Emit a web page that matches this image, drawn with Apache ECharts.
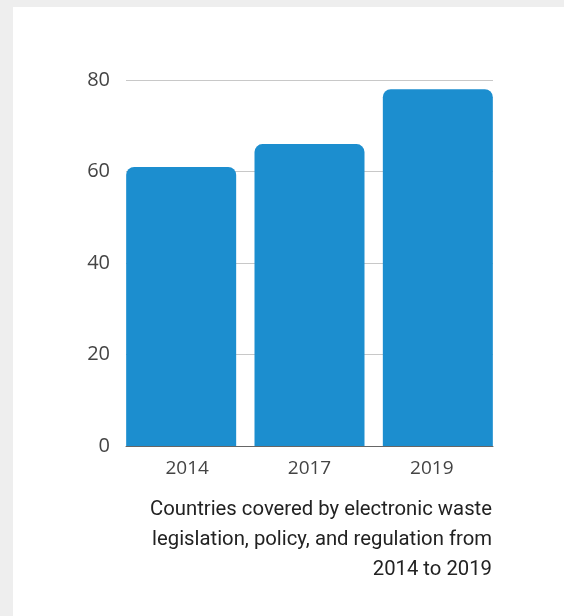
<!DOCTYPE html>
<html>
<head>
<meta charset="utf-8">
<script src="https://cdn.jsdelivr.net/npm/echarts@6/dist/echarts.min.js"></script>
<style>
  html, body { margin: 0; padding: 0; background: #eeeeee; }
  #card { position: absolute; left: 13px; top: 7px; right: 0; bottom: 0; background: #fff; }
  #chart { position: absolute; left: 0; top: 0; width: 564px; height: 616px; }
</style>
</head>
<body>
<div id="card"></div>
<div id="chart"></div>
<script>
var years = ['2014', '2017', '2019'];
var countries = [61, 66, 78];
var yTicks = [0, 20, 40, 60, 80];
var caption = 'Countries covered by electronic waste\nlegislation, policy, and regulation from\n2014 to 2019';

var chart = echarts.init(document.getElementById('chart'));

var option = {
    animation: false,
    grid: [
        // axes, labels and grid lines
        { left: 126, right: 71, top: 80, bottom: 170 },
        // bars, slightly wider so they sit flush with the line ends
        { left: 117, right: 62, top: 80, bottom: 170 }
    ],
    xAxis: [{
        type: 'category',
        gridIndex: 0,
        data: years,
        axisLine: { lineStyle: { color: '#666', width: 1 } },
        axisTick: { show: false },
        axisLabel: { color: '#444', fontSize: 19, fontFamily: 'Open Sans', margin: 13 }
    }, {
        type: 'category',
        gridIndex: 1,
        data: years,
        show: false
    }],
    yAxis: [{
        type: 'value',
        gridIndex: 0,
        min: yTicks[0],
        max: yTicks[yTicks.length - 1],
        interval: 20,
        axisLine: { show: false },
        axisTick: { show: false },
        splitLine: { lineStyle: { color: '#c8c8c8', width: 1 } },
        axisLabel: { color: '#444', fontSize: 20, fontFamily: 'Open Sans', margin: 16 }
    }, {
        type: 'value',
        gridIndex: 1,
        min: yTicks[0],
        max: yTicks[yTicks.length - 1],
        show: false
    }],
    series: [{
        type: 'bar',
        xAxisIndex: 1,
        yAxisIndex: 1,
        data: countries,
        barWidth: 110,
        itemStyle: { color: '#1c8ecf', borderRadius: [8, 8, 0, 0] },
        z: 1
    }],
    graphic: [{
        type: 'text',
        x: 492,
        y: 495,
        style: {
            text: caption,
            align: 'right',
            verticalAlign: 'top',
            fontSize: 20.3,
            lineHeight: 30,
            fontFamily: 'Roboto',
            fill: '#222'
        }
    }]
};

chart.setOption(option);
</script>
</body>
</html>
